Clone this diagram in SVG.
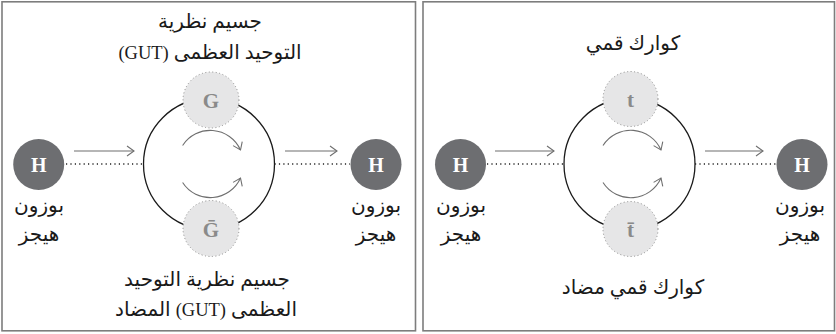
<svg xmlns="http://www.w3.org/2000/svg" width="836" height="334" viewBox="0 0 836 334">
<defs>
<marker id="chev" markerWidth="10" markerHeight="12" refX="8" refY="6" orient="auto" markerUnits="userSpaceOnUse">
<path d="M1,1 L8,6 L1,11" fill="none" stroke="#6f6f6f" stroke-width="1.1"/>
</marker>
<style>
.panel{fill:#fff;stroke:#7d7d7d;stroke-width:1.6}
.loop{fill:none;stroke:#1a1a1a;stroke-width:1.3}
.dot{fill:none;stroke:#222;stroke-width:1.4;stroke-dasharray:1.2 3.2}
.arr{fill:none;stroke:#6f6f6f;stroke-width:1.1}
.h{fill:#6d6e71}
.ht{fill:#fff;font-family:"Liberation Serif",serif;font-weight:bold;font-size:20px;text-anchor:middle}
.g{fill:#e6e6e7;stroke:#8a8a8a;stroke-width:1;stroke-dasharray:1 2.5}
.gt{fill:#8a8a8a;font-family:"Liberation Serif",serif;font-weight:bold;font-size:21px;text-anchor:middle}
.lab{fill:#1a1a1a;font-family:"Liberation Serif","DejaVu Sans",sans-serif;font-size:20px;text-anchor:middle}
.lat{font-size:18.5px}
</style>
</defs>
<rect class="panel" x="2" y="1.8" width="413.5" height="329"/>
<rect class="panel" x="423" y="1.8" width="411.5" height="329"/>

<g id="connectors">
<circle class="loop" cx="209" cy="164" r="65.5"/>
<circle class="loop" cx="629.5" cy="164" r="65.5"/>
<line class="dot" x1="66" y1="164" x2="143.5" y2="164"/>
<line class="dot" x1="274.5" y1="164" x2="350" y2="164"/>
<line class="dot" x1="487" y1="164" x2="564" y2="164"/>
<line class="dot" x1="695" y1="164" x2="776" y2="164"/>
<line class="arr" x1="74" y1="151" x2="134" y2="151" marker-end="url(#chev)"/>
<line class="arr" x1="285" y1="151" x2="337" y2="151" marker-end="url(#chev)"/>
<line class="arr" x1="495" y1="151" x2="554" y2="151" marker-end="url(#chev)"/>
<line class="arr" x1="705" y1="151" x2="763" y2="151" marker-end="url(#chev)"/>
<path class="arr" d="M182.6,145.5 A33,33 0 0,1 240.5,150" marker-end="url(#chev)"/>
<path class="arr" d="M182.6,182.5 A33,33 0 0,0 240.5,178" marker-end="url(#chev)"/>
<path class="arr" d="M603,145.5 A33,33 0 0,1 661,150" marker-end="url(#chev)"/>
<path class="arr" d="M603,182.5 A33,33 0 0,0 661,178" marker-end="url(#chev)"/>
</g>

<g id="h1"><circle class="h" cx="38.7" cy="164.5" r="25.5"/><text class="ht" x="38.7" y="171.5">H</text>
<text class="lab" direction="rtl" x="39" y="212">بوزون</text><text class="lab" direction="rtl" x="39" y="240.5">هيجز</text></g>
<g id="g1"><circle class="g" cx="211" cy="100" r="28"/><text class="gt" x="211" y="108">G</text>
<text class="lab" direction="rtl" x="210" y="28">جسيم نظرية</text><text class="lab" direction="rtl" x="210" y="59">التوحيد العظمى <tspan class="lat">(GUT)</tspan></text></g>
<g id="g2"><circle class="g" cx="211" cy="228.5" r="28"/><text class="gt" x="211" y="237">Ḡ</text>
<text class="lab" direction="rtl" x="207" y="286">جسيم نظرية التوحيد</text><text class="lab" direction="rtl" x="206" y="315.5">العظمى <tspan class="lat">(GUT)</tspan> المضاد</text></g>
<g id="h2"><circle class="h" cx="376" cy="164.5" r="25.5"/><text class="ht" x="376" y="171.5">H</text>
<text class="lab" direction="rtl" x="376" y="212">بوزون</text><text class="lab" direction="rtl" x="376" y="240.5">هيجز</text></g>

<g id="h3"><circle class="h" cx="460.5" cy="164.5" r="25.5"/><text class="ht" x="460.5" y="171.5">H</text>
<text class="lab" direction="rtl" x="461" y="212">بوزون</text><text class="lab" direction="rtl" x="461" y="240.5">هيجز</text></g>
<g id="t1"><circle class="g" cx="630.5" cy="99" r="27.5"/><text class="gt" x="630.5" y="107">t</text>
<text class="lab" direction="rtl" x="633" y="50">كوارك قمي</text></g>
<g id="t2"><circle class="g" cx="630.5" cy="229" r="27.5"/><text class="gt" x="630.5" y="237">t̄</text>
<text class="lab" direction="rtl" x="633" y="294">كوارك قمي مضاد</text></g>
<g id="h4"><circle class="h" cx="802" cy="164.5" r="25.5"/><text class="ht" x="802" y="171.5">H</text>
<text class="lab" direction="rtl" x="800" y="212">بوزون</text><text class="lab" direction="rtl" x="800" y="240.5">هيجز</text></g>
</svg>
